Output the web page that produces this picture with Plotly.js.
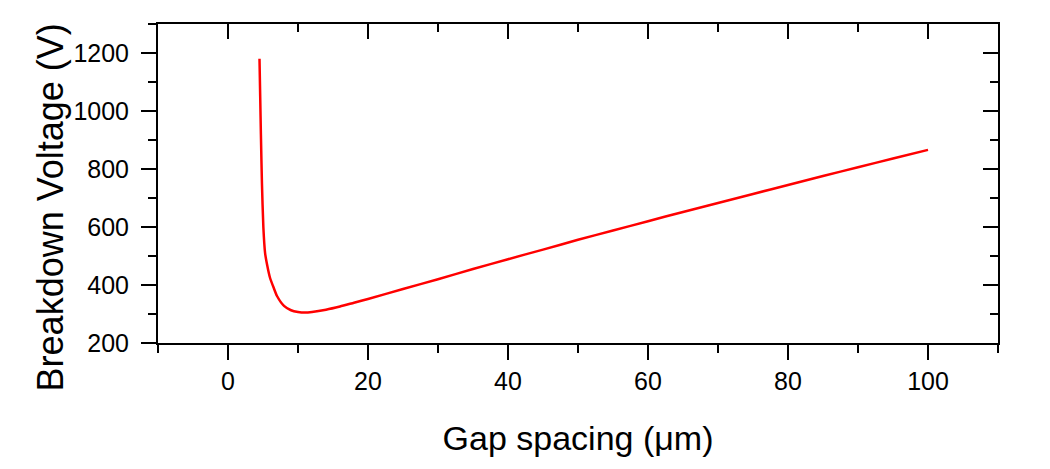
<!DOCTYPE html>
<html>
<head>
<meta charset="utf-8">
<script src="https://cdn.plot.ly/plotly-3.0.1.min.js"></script>
<style>
  html, body { margin: 0; padding: 0; background: #fff; }
  #plot { width: 1050px; height: 469px; }
</style>
</head>
<body>
<div id="plot"></div>
<script>
// gap spacing (um) vs breakdown voltage (V)
let gap = [4.5, 4.6, 4.7, 4.85, 5.05, 5.3, 5.6, 6.0, 6.5, 7.0, 8.0, 9.0, 10.0, 11.0, 12.0, 14.0, 16.0, 18.0, 20.0,
           25.0, 30.0, 35.0, 40.0, 45.0, 50.0, 55.0, 60.0, 65.0, 70.0, 75.0, 80.0, 85.0, 90.0, 95.0, 100.0];
let voltage = [1180, 1050, 920, 750, 600, 510, 468, 425, 392, 362, 328, 313, 307, 305, 307, 315, 326, 339, 352,
               386, 420, 455, 489, 522, 556, 588, 620, 652, 683, 714, 745, 776, 806, 836, 866];

let xTicks = [0, 20, 40, 60, 80, 100];
let xMinor = [-10, 10, 30, 50, 70, 90, 110];
let yTicks = [200, 400, 600, 800, 1000, 1200];
let yMinor = [300, 500, 700, 900, 1100, 1300];

let fontFam = 'Arial, "Liberation Sans", sans-serif';

let curve = {
    x: gap,
    y: voltage,
    type: 'scatter',
    mode: 'lines',
    line: { color: '#ff0000', width: 2.5, shape: 'spline', smoothing: 0.6 },
    showlegend: false
};

// same data on the mirror axes so the top/right frame gets drawn
let ghost = {
    x: gap,
    y: voltage,
    xaxis: 'x2',
    yaxis: 'y2',
    type: 'scatter',
    mode: 'lines',
    line: { color: 'rgba(0,0,0,0)', width: 0 },
    hoverinfo: 'skip',
    showlegend: false
};

let common = {
    showline: true,
    linecolor: '#000',
    linewidth: 2,
    tickcolor: '#000',
    tickwidth: 2,
    ticklen: 15,
    showgrid: false,
    zeroline: false,
    tickfont: { family: fontFam, size: 25, color: '#000' }
};

function minorTicks(vals, dir) {
    return { tickvals: vals, ticks: dir, ticklen: 8, tickwidth: 2, tickcolor: '#000' };
}

let layout = {
    width: 1050,
    height: 469,
    paper_bgcolor: '#fff',
    plot_bgcolor: '#fff',
    margin: { l: 158, r: 52, t: 24, b: 126 },
    font: { family: fontFam, color: '#000' },
    xaxis: Object.assign({}, common, {
        range: [-10, 110],
        tickvals: xTicks,
        ticks: 'outside',
        minor: minorTicks(xMinor, 'outside'),
        title: { text: 'Gap spacing (\u03bcm)', font: { family: fontFam, size: 34 }, standoff: 32 }
    }),
    yaxis: Object.assign({}, common, {
        range: [200, 1300],
        tickvals: yTicks,
        ticks: 'outside',
        ticklabelstandoff: 7,
        minor: minorTicks(yMinor, 'outside')
    }),
    xaxis2: Object.assign({}, common, {
        overlaying: 'x',
        side: 'top',
        range: [-10, 110],
        tickvals: xTicks,
        ticks: 'inside',
        showticklabels: false,
        minor: minorTicks(xMinor, 'inside')
    }),
    yaxis2: Object.assign({}, common, {
        overlaying: 'y',
        side: 'right',
        range: [200, 1300],
        tickvals: yTicks,
        ticks: 'inside',
        showticklabels: false,
        minor: minorTicks(yMinor, 'inside')
    }),
    annotations: [{
        text: 'Breakdown Voltage (V)',
        textangle: -90,
        xref: 'paper', yref: 'paper',
        x: -0.155, y: 0.426,
        showarrow: false,
        font: { family: fontFam, size: 36, color: '#000' }
    }]
};

Plotly.newPlot('plot', [curve, ghost], layout, { displayModeBar: false, staticPlot: true });
</script>
</body>
</html>
